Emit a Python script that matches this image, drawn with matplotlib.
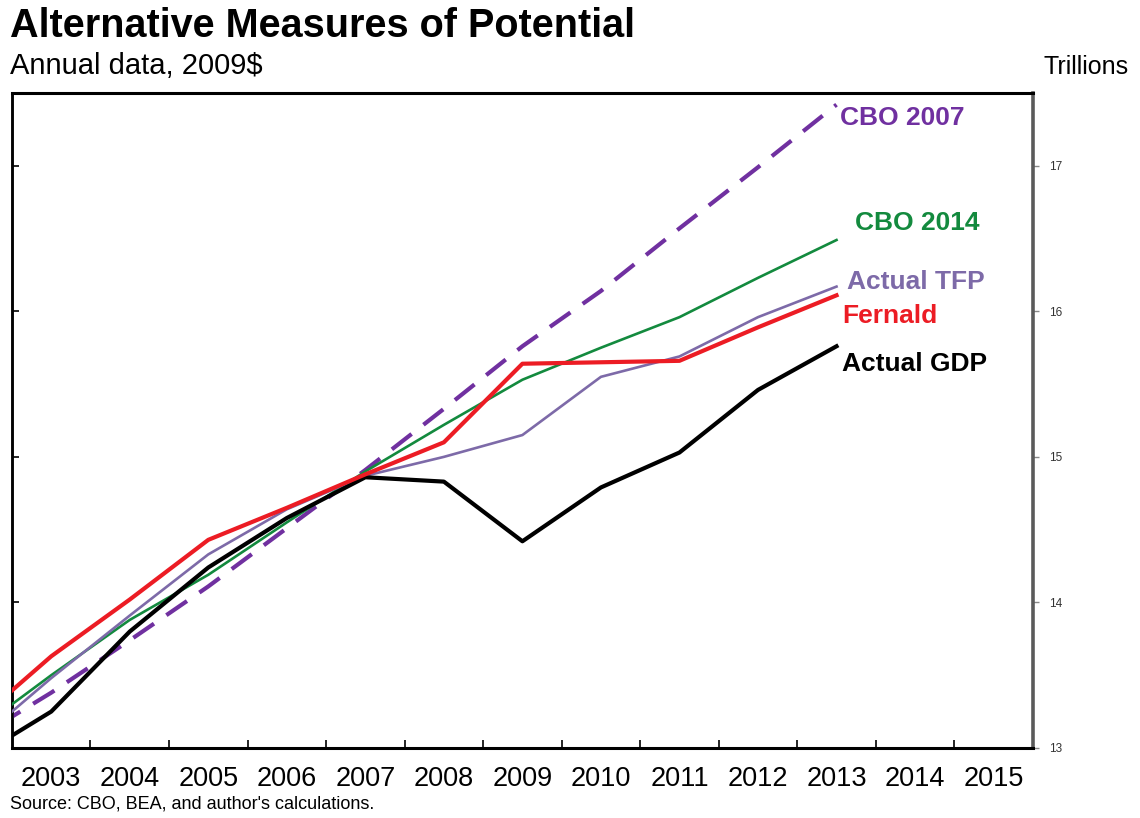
import matplotlib
matplotlib.use("Agg")
import matplotlib.pyplot as plt
from matplotlib import font_manager
from matplotlib.ticker import FixedLocator, NullFormatter

# years on the axis (2002 is only there so the lines run off the left edge)
years = [2002, 2003, 2004, 2005, 2006, 2007, 2008, 2009, 2010, 2011, 2012, 2013]
axis_years = list(range(2003, 2016))

# trillions of 2009 dollars
actual_gdp = [12.92, 13.25, 13.80, 14.24, 14.58, 14.86, 14.83, 14.42, 14.79, 15.03, 15.46, 15.76]
fernald = [13.16, 13.63, 14.02, 14.43, 14.65, 14.88, 15.10, 15.64, 15.65, 15.66, 15.89, 16.11]
cbo_2014 = [13.10, 13.50, 13.88, 14.19, 14.55, 14.90, 15.22, 15.53, 15.75, 15.96, 16.23, 16.49]
actual_tfp = [13.02, 13.48, 13.91, 14.33, 14.64, 14.87, 15.00, 15.15, 15.55, 15.69, 15.96, 16.17]
cbo_2007 = [13.05, 13.38, 13.74, 14.11, 14.51, 14.91, 15.33, 15.76, 16.14, 16.57, 16.99, 17.42]

names = {f.name for f in font_manager.fontManager.ttflist}
base_font = "Liberation Sans" if "Liberation Sans" in names else "DejaVu Sans"
plt.rcParams["font.family"] = base_font

fig = plt.figure(figsize=(11.4, 8.18), dpi=100)
ax = fig.add_axes([0.0105, 0.0856, 0.8955, 0.8007])

# x positions as index from 2003
xs = [y - 2003 for y in years]

ax.plot(xs, cbo_2007, color="#7030a0", lw=3.0, dashes=(6.0, 3.6), zorder=2)
ax.plot(xs, cbo_2014, color="#138a3e", lw=1.9, zorder=3)
ax.plot(xs, actual_tfp, color="#7d6aa8", lw=1.9, zorder=4)
ax.plot(xs, actual_gdp, color="black", lw=3.0, zorder=5)
ax.plot(xs, fernald, color="#ec1c24", lw=3.0, zorder=6)

ax.set_xlim(-0.5, len(axis_years) - 0.5)
ax.set_ylim(13, 17.5)

# year labels centred in each band, tick marks on the band edges
ax.set_xticks(range(len(axis_years)))
ax.set_xticklabels([str(y) for y in axis_years], fontsize=19.5)
ax.xaxis.set_minor_locator(FixedLocator([i + 0.5 for i in range(len(axis_years) - 1)]))
ax.xaxis.set_minor_formatter(NullFormatter())
ax.tick_params(axis="x", which="major", length=0, pad=13)
ax.tick_params(axis="x", which="minor", direction="in", length=6, width=1.2, color="black")

# values on the right, small ticks outside
ax.yaxis.tick_right()
ax.set_yticks([13, 14, 15, 16, 17])
ax.tick_params(axis="y", which="major", direction="out", length=4, width=1,
               color="#888888", labelsize=8.5, labelcolor="#333333", pad=8)

# short inside ticks on the left edge
left = ax.secondary_yaxis("left")
left.set_yticks([13, 14, 15, 16, 17])
left.tick_params(direction="in", length=5, width=1.2, color="black", labelleft=False)
left.spines["left"].set_linewidth(1.8)

for side in ["top", "bottom"]:
    ax.spines[side].set_linewidth(2.2)
    ax.spines[side].set_color("black")
ax.spines["left"].set_linewidth(1.8)
ax.spines["right"].set_linewidth(2.6)
ax.spines["right"].set_color("#5a5a5a")

# series labels
lab = dict(fontsize=19, fontweight="bold", va="center", ha="left")
ax.text(10.04, 17.33, "CBO 2007", color="#7030a0", **lab)
ax.text(10.23, 16.61, "CBO 2014", color="#138a3e", **lab)
ax.text(10.13, 16.20, "Actual TFP", color="#7d6aa8", **lab)
ax.text(10.07, 15.97, "Fernald", color="#ec1c24", **lab)
ax.text(10.07, 15.64, "Actual GDP", color="black", **lab)

fig.text(0.009, 0.955, "Alternative Measures of Potential", fontsize=28.5,
         fontweight="bold", va="baseline", ha="left")
fig.text(0.009, 0.909, "Annual data, 2009$", fontsize=21, va="baseline", ha="left")
fig.text(0.915, 0.909, "Trillions", fontsize=18, va="baseline", ha="left")
fig.text(0.009, 0.007, "Source: CBO, BEA, and author's calculations.", fontsize=13,
         va="bottom", ha="left")

fig.savefig("out.png", dpi=100)
